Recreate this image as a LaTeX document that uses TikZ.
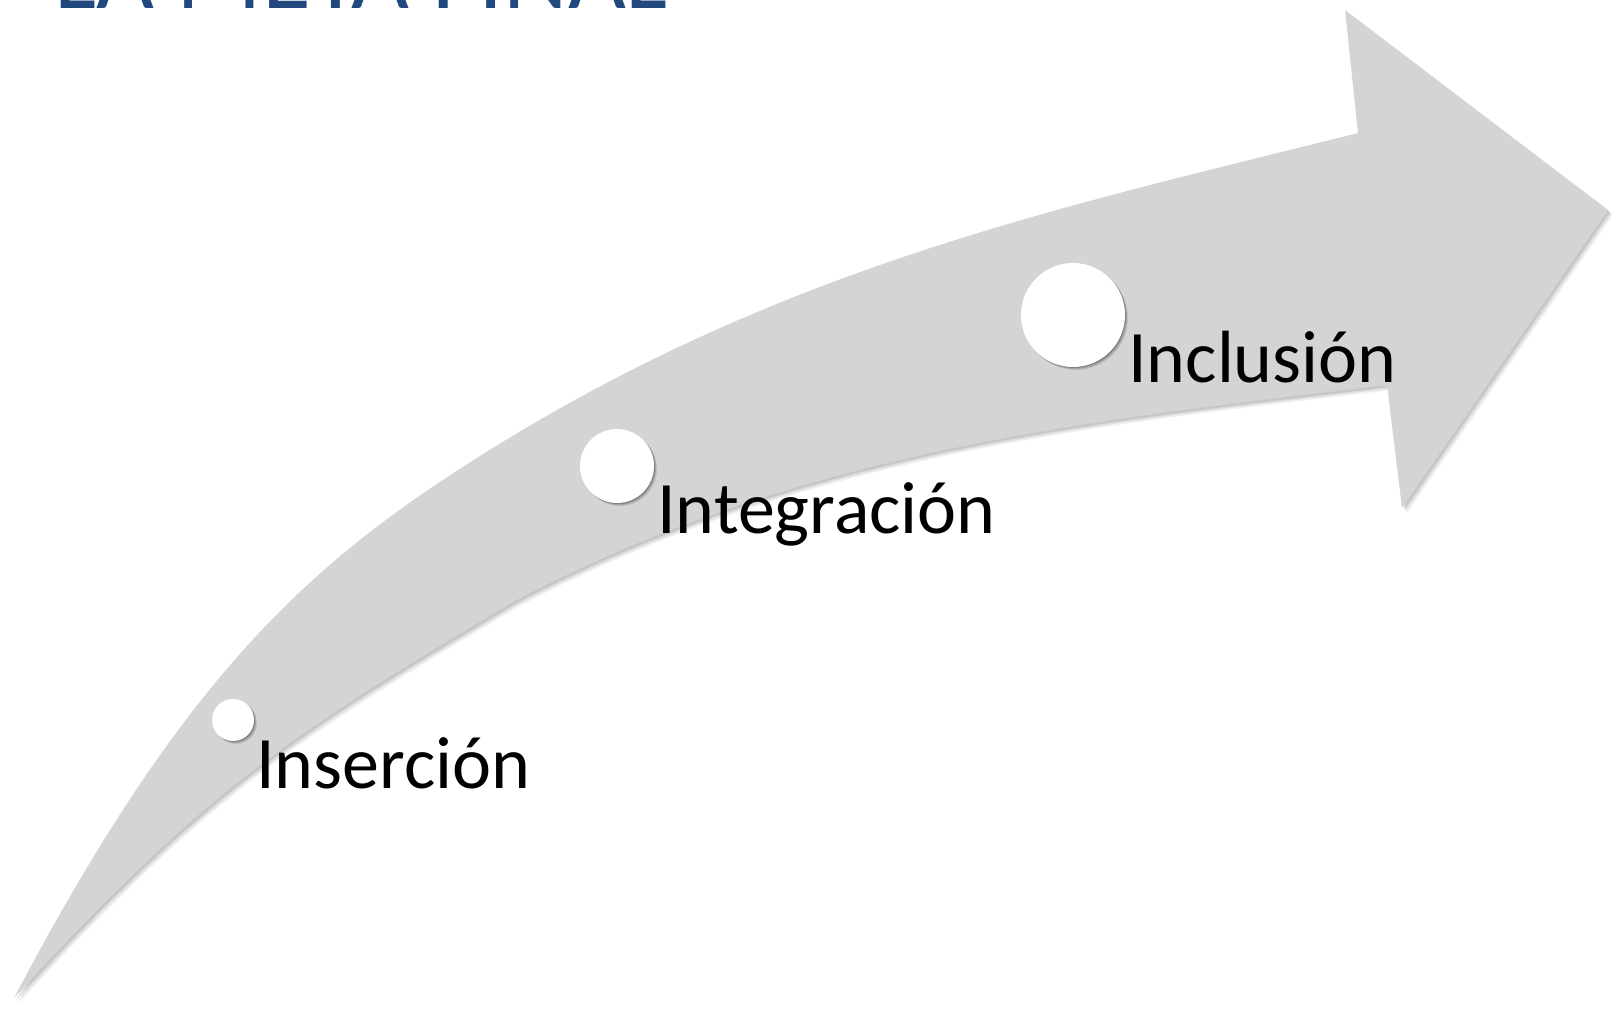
\documentclass[tikz,border=0pt]{standalone}
\usepackage{fontspec}
\setmainfont{Carlito}
\usetikzlibrary{shadows}
\definecolor{arrowgray}{RGB}{212,212,212}
\definecolor{titleblue}{RGB}{33,73,125}
\begin{document}
\begin{tikzpicture}[x=1pt,y=-1pt,
  lbl/.style={anchor=base west, inner sep=0pt, text=black, font=\fontsize{74}{80}\selectfont},
  ttl/.style={anchor=base west, inner sep=0pt, text=titleblue, font=\fontsize{100}{110}\selectfont},
  dot/.style={circle, fill=white, inner sep=0pt, minimum size=#1,
    drop shadow={shadow xshift=3pt, shadow yshift=-3pt, opacity=0.10, fill=black},
    drop shadow={shadow xshift=2pt, shadow yshift=-2pt, opacity=0.15, fill=black},
    drop shadow={shadow xshift=1pt, shadow yshift=-1pt, opacity=0.20, fill=black}},
  shade/.style={fill=black, opacity=#1}
]
\useasboundingbox (0,0) rectangle (1612,1010);
\clip (0,0) rectangle (1612,1010);
\def\arrowshape{(14,998)
  .. controls (184,675) and (310,563) .. (480,456)
  .. controls (780,267) and (1058,208) .. (1358,133)
  -- (1345,10) -- (1608,210) -- (1402,508) -- (1387,385)
  .. controls (1097,420) and (803,448) .. (513,602)
  .. controls (313,722) and (214,778) .. (14,998) -- cycle}
% arrow shadow
\path[shade=0.06, shift={(5,5)}] \arrowshape;
\path[shade=0.08, shift={(3.5,3.5)}] \arrowshape;
\path[shade=0.10, shift={(2,2)}] \arrowshape;
% arrow body
\path[fill=arrowgray] \arrowshape;
% title (cut off at the top)
\node[ttl] (title) at (54,8) {LA META FINAL};
% stages
\node[dot=42pt]  (c1) at (233,720) {};
\node[dot=74pt]  (c2) at (617,466) {};
\node[dot=104pt] (c3) at (1073,315) {};
\node[lbl] (l1) at (256,788) {Inserción};
\node[lbl] (l2) at (657,533) {Integración};
\node[lbl] (l3) at (1128,382) {Inclusión};
\end{tikzpicture}
\end{document}
